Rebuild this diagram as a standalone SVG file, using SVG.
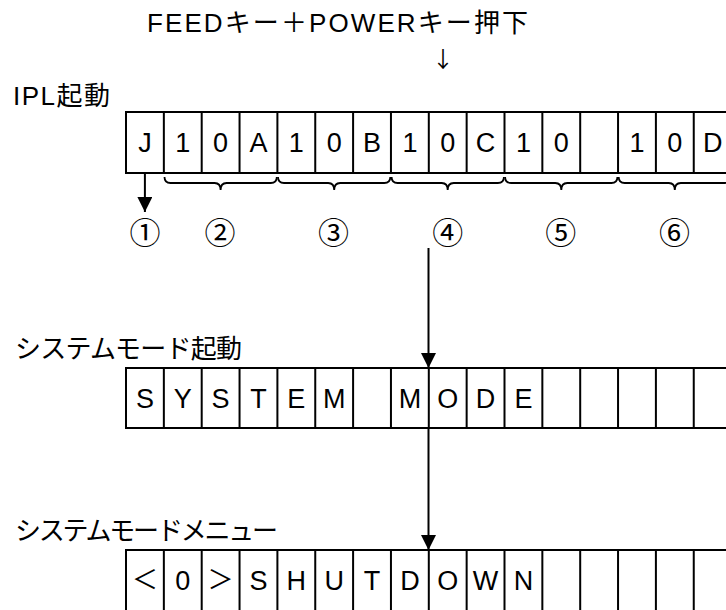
<svg xmlns="http://www.w3.org/2000/svg" width="726" height="610" viewBox="0 0 726 610">
<style>
.lbl{font-family:"Liberation Sans","Noto Sans CJK JP",sans-serif;font-size:26px;fill:#000}
.cell{font-family:"Liberation Sans","Noto Sans CJK JP",sans-serif;font-size:27px;fill:#000;text-anchor:middle}
.fw{font-family:"Noto Sans CJK JP",sans-serif;font-size:26px;fill:#000;text-anchor:middle}
.num{font-family:"Noto Sans CJK JP",sans-serif;font-size:31px;fill:#000;text-anchor:middle}
.grid{fill:none;stroke:#000;stroke-width:2}
.brace{fill:none;stroke:#000;stroke-width:1.8}
.conn{stroke:#000;stroke-width:2;fill:none}
</style>
<defs>
<marker id="ah" markerUnits="userSpaceOnUse" markerWidth="16" markerHeight="16" refX="15" refY="7.5" orient="auto">
<path d="M0,0 L15,7.5 L0,15 z" fill="#000"/>
</marker>
</defs>
<rect width="726" height="610" fill="#fff"/>

<g id="title">
<text class="lbl" x="147" y="32" textLength="381" lengthAdjust="spacing">FEEDキー＋POWERキー押下</text>
<text x="443" y="67" style="font-family:'Noto Sans CJK JP',sans-serif;font-size:22px;text-anchor:middle">↓</text>
</g>

<g id="ipl">
<text class="lbl" x="13" y="105" textLength="97" lengthAdjust="spacing">IPL起動</text>
<rect class="grid" x="126" y="112" width="605.6" height="61"/>
<path class="grid" d="M163.85,112V173M201.7,112V173M239.55,112V173M277.4,112V173M315.25,112V173M353.1,112V173M390.95,112V173M428.8,112V173M466.65,112V173M504.5,112V173M542.35,112V173M580.2,112V173M618.05,112V173M655.9,112V173M693.75,112V173"/>
<text class="cell" y="152.2"><tspan x="144.9">J</tspan><tspan x="182.8">1</tspan><tspan x="220.6">0</tspan><tspan x="258.5">A</tspan><tspan x="296.3">1</tspan><tspan x="334.2">0</tspan><tspan x="372">B</tspan><tspan x="409.9">1</tspan><tspan x="447.7">0</tspan><tspan x="485.6">C</tspan><tspan x="523.4">1</tspan><tspan x="561.3">0</tspan><tspan x="637">1</tspan><tspan x="674.8">0</tspan><tspan x="712.7">D</tspan></text>
</g>

<g id="braces">
<path class="brace" d="M164.5,177 Q164.5,183 170.5,183 L214.6,183 Q220.6,183 220.6,190 Q220.6,183 226.6,183 L270.8,183 Q276.8,183 276.8,177"/>
<path class="brace" d="M278,177 Q278,183 284,183 L328.2,183 Q334.2,183 334.2,190 Q334.2,183 340.2,183 L384.3,183 Q390.3,183 390.3,177"/>
<path class="brace" d="M391.6,177 Q391.6,183 397.6,183 L441.7,183 Q447.7,183 447.7,190 Q447.7,183 453.7,183 L497.9,183 Q503.9,183 503.9,177"/>
<path class="brace" d="M505.1,177 Q505.1,183 511.1,183 L555.3,183 Q561.3,183 561.3,190 Q561.3,183 567.3,183 L611.4,183 Q617.4,183 617.4,177"/>
<path class="brace" d="M618.7,177 Q618.7,183 624.7,183 L668.8,183 Q674.8,183 674.8,190 Q674.8,183 680.8,183 L725,183 Q731,183 731,177"/>
</g>

<g id="numbers">
<text class="num" x="144.9" y="244">①</text>
<text class="num" x="220" y="244">②</text>
<text class="num" x="333.5" y="244">③</text>
<text class="num" x="447.7" y="244">④</text>
<text class="num" x="560.8" y="244">⑤</text>
<text class="num" x="674.5" y="244">⑥</text>
</g>

<g id="sysmode">
<text class="lbl" x="15" y="358" textLength="227" lengthAdjust="spacing">システムモード起動</text>
<rect class="grid" x="126" y="368" width="605.6" height="60"/>
<path class="grid" d="M163.85,368V428M201.7,368V428M239.55,368V428M277.4,368V428M315.25,368V428M353.1,368V428M390.95,368V428M428.8,368V428M466.65,368V428M504.5,368V428M542.35,368V428M580.2,368V428M618.05,368V428M655.9,368V428M693.75,368V428"/>
<text class="cell" y="407.7"><tspan x="144.9">S</tspan><tspan x="182.8">Y</tspan><tspan x="220.6">S</tspan><tspan x="258.5">T</tspan><tspan x="296.3">E</tspan><tspan x="334.2">M</tspan><tspan x="409.9">M</tspan><tspan x="447.7">O</tspan><tspan x="485.6">D</tspan><tspan x="523.4">E</tspan></text>
</g>

<g id="sysmenu">
<text class="lbl" x="15" y="540" textLength="263" lengthAdjust="spacing">システムモードメニュー</text>
<rect class="grid" x="126" y="550" width="605.6" height="62"/>
<path class="grid" d="M163.85,550V612M201.7,550V612M239.55,550V612M277.4,550V612M315.25,550V612M353.1,550V612M390.95,550V612M428.8,550V612M466.65,550V612M504.5,550V612M542.35,550V612M580.2,550V612M618.05,550V612M655.9,550V612M693.75,550V612"/>
<text class="fw" x="144.9" y="589">＜</text>
<text class="fw" x="220.6" y="589">＞</text>
<text class="cell" y="589.7"><tspan x="182.8">0</tspan><tspan x="258.5">S</tspan><tspan x="296.3">H</tspan><tspan x="334.2">U</tspan><tspan x="372">T</tspan><tspan x="409.9">D</tspan><tspan x="447.7">O</tspan><tspan x="485.6">W</tspan><tspan x="523.4">N</tspan></text>
</g>

<g id="connectors">
<line class="conn" x1="144.9" y1="174" x2="144.9" y2="212" marker-end="url(#ah)"/>
<line class="conn" x1="428.5" y1="248" x2="428.5" y2="368" marker-end="url(#ah)"/>
<line class="conn" x1="428.5" y1="429" x2="428.5" y2="550" marker-end="url(#ah)"/>
</g>
</svg>
